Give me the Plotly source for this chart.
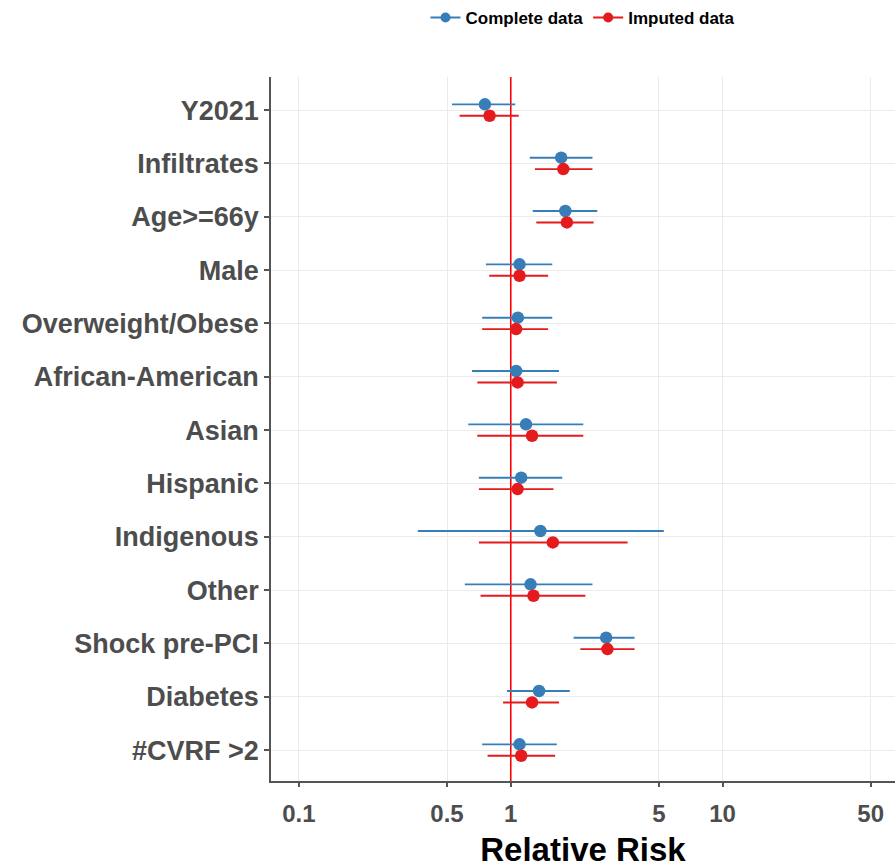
import plotly.graph_objects as go

categories = ["Y2021", "Infiltrates", "Age>=66y", "Male", "Overweight/Obese",
              "African-American", "Asian", "Hispanic", "Indigenous", "Other",
              "Shock pre-PCI", "Diabetes", "#CVRF >2"]

complete_est = [0.755, 1.73, 1.81, 1.10, 1.08, 1.06, 1.18, 1.12, 1.38, 1.24, 2.82, 1.36, 1.10]
complete_lo  = [0.528, 1.23, 1.27, 0.763, 0.733, 0.656, 0.63, 0.707, 0.364, 0.607, 1.98, 0.96, 0.733]
complete_hi  = [1.05, 2.43, 2.56, 1.57, 1.57, 1.69, 2.20, 1.75, 5.28, 2.43, 3.84, 1.90, 1.65]

imputed_est = [0.794, 1.77, 1.84, 1.10, 1.06, 1.077, 1.26, 1.077, 1.58, 1.28, 2.86, 1.26, 1.12]
imputed_lo  = [0.573, 1.30, 1.32, 0.791, 0.733, 0.695, 0.695, 0.707, 0.707, 0.72, 2.13, 0.92, 0.777]
imputed_hi  = [1.09, 2.43, 2.46, 1.50, 1.50, 1.65, 2.20, 1.59, 3.56, 2.25, 3.84, 1.69, 1.62]

x_tickvals = [0.1, 0.5, 1, 5, 10, 50]
x_ticktext = ["0.1", "0.5", "1", "5", "10", "50"]
reference_rr = 1

BLUE = "#377EB8"
RED = "#E41A1C"
FONT = "Liberation Sans, Arial, sans-serif"
DODGE = 0.107
Y_RANGE = [12.58, -0.62]

pos = list(range(len(categories)))
fig = go.Figure()

# reference line at RR = 1 (drawn first so it sits under the points)
fig.add_trace(go.Scatter(
    x=[reference_rr, reference_rr], y=[Y_RANGE[0], Y_RANGE[1]], mode="lines",
    line=dict(color="#FF0000", width=1.6), showlegend=False, hoverinfo="skip",
))

series = [
    ("Complete data", complete_est, complete_lo, complete_hi, BLUE, -DODGE),
    ("Imputed data", imputed_est, imputed_lo, imputed_hi, RED, DODGE),
]

for name, est, lo, hi, col, off in series:
    ys = [p + off for p in pos]
    fig.add_trace(go.Scatter(
        x=est, y=ys, mode="markers",
        marker=dict(color=col, size=12.5, symbol="circle"),
        error_x=dict(type="data", symmetric=False,
                     array=[h - e for h, e in zip(hi, est)],
                     arrayminus=[e - l for e, l in zip(est, lo)],
                     color=col, thickness=1.9, width=0),
        showlegend=False, name=name, hoverinfo="x+name",
    ))

# legend entries (line + marker)
for name, est, lo, hi, col, off in series:
    fig.add_trace(go.Scatter(
        x=[None], y=[None], mode="lines+markers", name=name,
        line=dict(color=col, width=2), marker=dict(color=col, size=10),
    ))

fig.update_layout(
    width=895, height=868,
    margin=dict(l=271, r=0, t=77, b=85),
    plot_bgcolor="white", paper_bgcolor="white",
    font=dict(family=FONT),
    legend=dict(orientation="h", x=0.5, xanchor="center", xref="paper",
                y=1.0, yref="container", yanchor="top",
                font=dict(size=17, color="#000000", weight="bold"),
                itemwidth=30, tracegroupgap=0),
)

fig.update_xaxes(
    type="log", range=[-1.132, 1.814],
    tickvals=x_tickvals, ticktext=x_ticktext,
    tickfont=dict(size=24, color="#4D4D4D", weight="bold", family=FONT),
    ticklabelstandoff=6,
    showgrid=True, gridcolor="#EBEBEB", gridwidth=1.2,
    showline=True, linecolor="#555555", linewidth=1.5,
    ticks="outside", ticklen=4, tickcolor="#555555", tickwidth=1.5,
    zeroline=False,
    title=dict(text="Relative Risk", font=dict(size=33, color="#000000", weight="bold", family=FONT),
               standoff=18),
)

fig.update_yaxes(
    range=Y_RANGE,
    tickvals=pos, ticktext=categories,
    tickfont=dict(size=27, color="#4D4D4D", weight="bold", family=FONT),
    showgrid=True, gridcolor="#EBEBEB", gridwidth=1.2,
    showline=True, linecolor="#555555", linewidth=1.5,
    ticks="outside", ticklen=5, tickcolor="#555555", tickwidth=1.5,
    zeroline=False,
)

fig.write_html("out.html",
               config={"displayModeBar": False},
               post_script="document.body.style.margin='0';document.body.style.padding='0';")
